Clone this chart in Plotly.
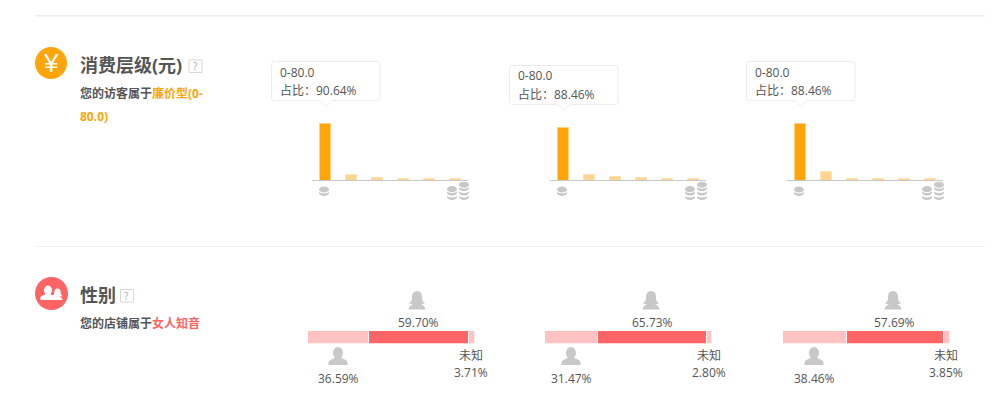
import plotly.graph_objects as go

W = 995
H = 401
FONT = "Open Sans, Noto Sans CJK SC"
TEXT = "#555555"
ORANGE = "#ffa50a"
RED = "#ff6464"
ICON = "#c8c8c8"

# data
price_bins = ["0-80.0", "80-160", "160-240", "240-320", "320-400", "400+"]
price_shop = [90.64, 9.5, 4.8, 3.2, 3.2, 3.2]
price_peer = [88.46, 10.0, 6.7, 5.0, 3.3, 3.3]
price_top = [88.46, 14.0, 3.0, 3.0, 3.0, 3.0]
price_ymax = [96.5, 101.5, 94.2]
female = [59.70, 65.73, 57.69]
male = [36.59, 31.47, 38.46]
unknown = [3.71, 2.80, 3.85]


def px(x):
    return x / W


def py(y):
    return 1 - y / H


def path(cmds, close=True):
    # cmds are (letter, x, y, x, y...) in screen pixels
    out = []
    for c in cmds:
        nums = c[1:]
        pts = [f"{px(nums[i])},{py(nums[i + 1])}" for i in range(0, len(nums), 2)]
        out.append(c[0] + " ".join(pts))
    return " ".join(out) + (" Z" if close else "")


def ellipse(x0, y0, x1, y1, fill, line=None):
    return dict(
        type="circle", xref="paper", yref="paper",
        x0=px(x0), x1=px(x1), y0=py(y1), y1=py(y0),
        fillcolor=fill, line=dict(color=line or fill, width=1 if line else 0),
        layer="above",
    )


def rect(x0, y0, x1, y1, fill, line=None, width=1):
    return dict(
        type="rect", xref="paper", yref="paper",
        x0=px(x0), x1=px(x1), y0=py(y1), y1=py(y0),
        fillcolor=fill, line=dict(color=line or fill, width=width if line else 0),
        layer="above",
    )


def blob(cmds, fill, line=None, close=True):
    return dict(
        type="path", xref="paper", yref="paper", path=path(cmds, close),
        fillcolor=fill, line=dict(color=line or fill, width=1 if line else 0),
        layer="above",
    )


def label(x, y, text, size=12, color=TEXT, anchor="center", family=FONT):
    # annotation boxes pad the text, so pull it back onto the wanted spot
    dx = -2 if anchor == "left" else 0.5
    return dict(
        x=px(x + dx), y=py(y - 0.5), xref="paper", yref="paper", text=text, showarrow=False,
        xanchor=anchor, yanchor="middle", align="left",
        font=dict(family=family, size=size, color=color),
    )


def man(cx, top, fill=ICON, s=1.0):
    return [
        ellipse(cx - 5 * s, top, cx + 5 * s, top + 12 * s, fill),
        blob([("M", cx - 9.5 * s, top + 18 * s), ("L", cx - 9.5 * s, top + 15 * s),
              ("Q", cx - 9 * s, top + 13 * s, cx - 3 * s, top + 11 * s),
              ("L", cx + 3 * s, top + 11 * s),
              ("Q", cx + 9 * s, top + 13 * s, cx + 9.5 * s, top + 15 * s),
              ("L", cx + 9.5 * s, top + 18 * s)], fill),
    ]


def woman(cx, top, fill=ICON, s=1.0):
    return [
        ellipse(cx - 5 * s, top, cx + 5 * s, top + 11 * s, fill),
        blob([("M", cx - 4.5 * s, top + 5 * s), ("Q", cx - 4.5 * s, top + 10 * s, cx - 8 * s, top + 12.5 * s),
              ("L", cx - 5 * s, top + 13 * s), ("L", cx + 5 * s, top + 13 * s),
              ("L", cx + 8 * s, top + 12.5 * s), ("Q", cx + 4.5 * s, top + 10 * s, cx + 4.5 * s, top + 5 * s)], fill),
        blob([("M", cx - 8.5 * s, top + 18.5 * s), ("Q", cx - 8 * s, top + 15 * s, cx - 3 * s, top + 12.5 * s),
              ("L", cx + 3 * s, top + 12.5 * s), ("Q", cx + 8 * s, top + 15 * s, cx + 8.5 * s, top + 18.5 * s)], fill),
    ]


def coin_stack(cx, bottom, n):
    # one coin = an ellipse with a band under it, white slits between
    out = []
    for i in range(n):
        y = bottom - 4.4 * i
        out.append(ellipse(cx - 5, y - 6, cx + 5, y, ICON))
        out.append(ellipse(cx - 5, y - 8, cx + 5, y - 2.5, "#ffffff"))
    out.append(ellipse(cx - 5, bottom - 4.4 * (n - 1) - 9.5, cx + 5, bottom - 4.4 * (n - 1) - 3.5, ICON))
    return out


def tooltip(x0, y0, x1, y1, tip):
    r = 3
    edge = "#ececec"
    return blob([
        ("M", x0 + r, y0), ("L", x1 - r, y0), ("Q", x1, y0, x1, y0 + r),
        ("L", x1, y1 - r), ("Q", x1, y1, x1 - r, y1),
        ("L", tip + 6, y1), ("L", tip, y1 + 6), ("L", tip - 6, y1),
        ("L", x0 + r, y1), ("Q", x0, y1, x0, y1 - r),
        ("L", x0, y0 + r), ("Q", x0, y0, x0 + r, y0),
    ], "#ffffff", edge)


fig = go.Figure()
shapes = []
notes = []

# section dividers
shapes.append(rect(35, 15, 985, 16.5, "#eeeeee"))
shapes.append(rect(35, 246, 985, 247, "#f0f0f0"))

# left column
shapes.append(ellipse(35, 47, 67, 79, ORANGE))
notes.append(label(50.5, 63.5, "¥", size=26, color="#ffffff", family="Liberation Sans"))
notes.append(label(79.5, 65, "<b>消费层级(元)</b>", size=18, anchor="left"))
shapes.append(rect(189, 60, 202, 72.5, "#ffffff", "#d8d8d8"))
notes.append(label(195, 66.5, "?", size=10, color="#aaaaaa"))
notes.append(label(79.5, 93.5, f'<b>您的访客属于<span style="color:{ORANGE}">廉价型(0-</span></b>', size=12, anchor="left"))
notes.append(label(79.5, 117.5, f'<b><span style="color:{ORANGE}">80.0)</span></b>', size=12, anchor="left"))

shapes.append(ellipse(35, 277, 68, 310, RED))
shapes += woman(57.5, 288.5, "#ffffff", 0.62)
shapes += man(48, 285.5, "#ffffff", 0.8)
notes.append(label(79.5, 295, "<b>性别</b>", size=18, anchor="left"))
shapes.append(rect(120.5, 289.5, 133.5, 302, "#ffffff", "#d8d8d8"))
notes.append(label(126.5, 296, "?", size=10, color="#aaaaaa"))
notes.append(label(79.5, 323.5, f'<b>您的店铺属于<span style="color:{RED}">女人知音</span></b>', size=12, anchor="left"))

# price charts
price_left = [312, 550, 787]
tip_left = [271.5, 509.5, 746.5]
tip_top = [61.5, 65.5, 61.5]
for i, vals in enumerate([price_shop, price_peer, price_top]):
    n = "" if i == 0 else str(i + 1)
    left = price_left[i]
    fig.add_trace(
        go.Bar(
            x=price_bins, y=vals, xaxis=f"x{n}", yaxis=f"y{n}", showlegend=False,
            marker=dict(
                color=[ORANGE] + ["#ffd48f"] * 5,
                line=dict(color=["#ffd27f"] + ["#ffe3b5"] * 5, width=1),
            ),
        )
    )
    fig.update_layout({
        f"xaxis{n}": dict(
            domain=[px(left), px(left + 156)], range=[-0.5, 5.5], type="category",
            showticklabels=False, ticks="", showgrid=False, zeroline=False,
            showline=True, linecolor="#c8c8c8", linewidth=1, anchor=f"y{n}",
        ),
        f"yaxis{n}": dict(
            domain=[py(180), py(120)], range=[0, price_ymax[i]], visible=False,
            anchor=f"x{n}",
        ),
    })
    shapes += coin_stack(left + 12, 196, 1)
    shapes += coin_stack(left + 140, 200, 2)
    shapes += coin_stack(left + 152, 200, 3)

    # tooltip
    tl, tt = tip_left[i], tip_top[i]
    shapes.append(tooltip(tl, tt, tl + 108.5, tt + 39, tl + 54.5))
    notes.append(label(tl + 8.5, tt + 11, price_bins[0], anchor="left"))
    notes.append(label(tl + 8.5, tt + 29, f"占比：{vals[0]:.2f}%", anchor="left"))

# gender charts
gender_left = [307.5, 544.5, 782.5]
female_x = [417, 651, 893]
male_x = [338, 571, 814]
unknown_x = [470.5, 708, 945.5]
for i in range(3):
    k = i + 4
    left = gender_left[i]
    for val, color in [(male[i], "#ffc2c2"), (female[i], "#ff6565"), (unknown[i], "#ffc2c2")]:
        fig.add_trace(
            go.Bar(
                x=[val], y=[0], width=1, orientation="h", xaxis=f"x{k}", yaxis=f"y{k}",
                showlegend=False, marker=dict(color=color, line=dict(color="#ffffff", width=1)),
            )
        )
    fig.update_layout({
        f"xaxis{k}": dict(domain=[px(left), px(left + 167)], range=[0, 100], visible=False, anchor=f"y{k}"),
        f"yaxis{k}": dict(domain=[py(343.5), py(330.5)], range=[-0.5, 0.5], visible=False, anchor=f"x{k}"),
    })
    shapes += woman(female_x[i], 291)
    shapes += man(male_x[i], 347)
    notes.append(label(female_x[i] + 1, 323, f"{female[i]:.2f}%"))
    notes.append(label(male_x[i], 379, f"{male[i]:.2f}%"))
    notes.append(label(unknown_x[i], 356, "未知"))
    notes.append(label(unknown_x[i], 372.5, f"{unknown[i]:.2f}%"))

fig.update_layout(
    width=W,
    height=H,
    autosize=False,
    margin=dict(l=0, r=0, t=0, b=0),
    barmode="stack",
    bargap=0.54,
    paper_bgcolor="#ffffff",
    plot_bgcolor="#ffffff",
    shapes=shapes,
    annotations=notes,
    font=dict(family=FONT, color=TEXT),
    hovermode=False,
)

fig.write_html(
    "out.html",
    config={"displayModeBar": False},
    post_script="document.body.style.margin = '0';",
)
